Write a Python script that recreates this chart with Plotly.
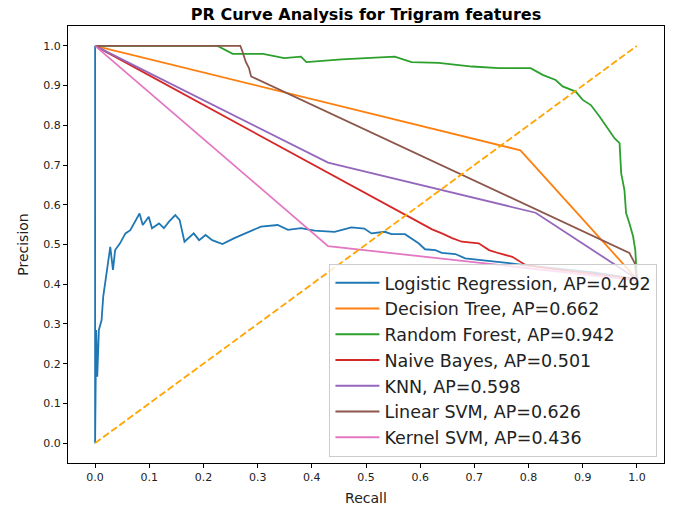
import plotly.graph_objects as go

# ---------------- data ----------------
lr_recall = [0.0, 0.0, 0.002, 0.004, 0.007, 0.012, 0.015, 0.019, 0.028, 0.033, 0.037, 0.046,
             0.056, 0.065, 0.074, 0.082, 0.088, 0.099, 0.105, 0.118, 0.127, 0.136, 0.148,
             0.156, 0.165, 0.182, 0.192, 0.204, 0.216, 0.235, 0.257, 0.278, 0.306, 0.337,
             0.356, 0.380, 0.405, 0.442, 0.473, 0.497, 0.510, 0.535, 0.547, 0.572, 0.584,
             0.597, 0.609, 0.628, 0.640, 0.665, 0.683, 0.714, 0.739, 0.764, 0.792, 0.85,
             0.92, 1.0]
lr_precision = [1.0, 0.0, 0.285, 0.167, 0.285, 0.31, 0.369, 0.41, 0.494, 0.436, 0.486, 0.503,
                0.528, 0.536, 0.557, 0.578, 0.549, 0.570, 0.541, 0.553, 0.541, 0.557, 0.574,
                0.562, 0.507, 0.528, 0.511, 0.524, 0.511, 0.501, 0.516, 0.528, 0.545, 0.549,
                0.537, 0.541, 0.535, 0.532, 0.543, 0.540, 0.528, 0.532, 0.526, 0.526, 0.516,
                0.503, 0.488, 0.486, 0.479, 0.476, 0.465, 0.461, 0.457, 0.453, 0.448, 0.44,
                0.43, 0.413]

dt_recall = [0.0, 0.785, 1.0]
dt_precision = [1.0, 0.737, 0.413]

rf_recall = [0.0, 0.226, 0.254, 0.31, 0.349, 0.38, 0.39, 0.455, 0.553, 0.584, 0.634, 0.696,
             0.745, 0.804, 0.826, 0.850, 0.863, 0.887, 0.900, 0.915, 0.931, 0.949, 0.959,
             0.968, 0.971, 0.977, 0.980, 0.986, 0.993, 0.997, 1.0]
rf_precision = [1.0, 1.0, 0.98, 0.98, 0.969, 0.973, 0.959, 0.966, 0.973, 0.959, 0.957, 0.948,
                0.944, 0.944, 0.927, 0.914, 0.898, 0.885, 0.864, 0.851, 0.822, 0.788, 0.767,
                0.755, 0.679, 0.637, 0.579, 0.554, 0.52, 0.486, 0.413]

nb_recall = [0.0, 0.622, 0.640, 0.659, 0.677, 0.708, 0.727, 0.745, 0.770, 0.779, 0.795,
             0.838, 0.90, 1.0]
nb_precision = [1.0, 0.538, 0.528, 0.516, 0.507, 0.503, 0.486, 0.478, 0.469, 0.461, 0.448,
                0.44, 0.43, 0.413]

knn_recall = [0.0, 0.43, 0.813, 1.0]
knn_precision = [1.0, 0.706, 0.58, 0.413]

lsvm_recall = [0.0, 0.268, 0.272, 0.278, 0.284, 0.288, 0.986, 0.996, 1.0]
lsvm_precision = [1.0, 1.0, 0.986, 0.96, 0.944, 0.923, 0.479, 0.453, 0.413]

ksvm_recall = [0.0, 0.43, 1.0]
ksvm_precision = [1.0, 0.496, 0.41]

series_names = ["Logistic Regression, AP=0.492", "Decision Tree, AP=0.662",
                "Random Forest, AP=0.942", "Naive Bayes, AP=0.501", "KNN, AP=0.598",
                "Linear SVM, AP=0.626", "Kernel SVM, AP=0.436"]
series_colors = ["#1f77b4", "#ff7f0e", "#2ca02c", "#d62728", "#9467bd", "#8c564b", "#e377c2"]
series_x = [lr_recall, dt_recall, rf_recall, nb_recall, knn_recall, lsvm_recall, ksvm_recall]
series_y = [lr_precision, dt_precision, rf_precision, nb_precision, knn_precision,
            lsvm_precision, ksvm_precision]

diag_x = [0.0, 1.0]
diag_y = [0.0, 1.0]

tick_vals = [0.0, 0.1, 0.2, 0.3, 0.4, 0.5, 0.6, 0.7, 0.8, 0.9, 1.0]
tick_text = ["0.0", "0.1", "0.2", "0.3", "0.4", "0.5", "0.6", "0.7", "0.8", "0.9", "1.0"]

# ---------------- figure ----------------
FONT = "DejaVu Sans"
fig = go.Figure()
for i, (nm, col, xs, ys) in enumerate(zip(series_names, series_colors, series_x, series_y)):
    fig.add_trace(go.Scatter(x=xs, y=ys, mode="lines", name=nm, legendgroup=f"g{i}",
                             line=dict(color=col, width=1.8)))

fig.add_trace(go.Scatter(x=diag_x, y=diag_y, mode="lines", showlegend=False,
                         line=dict(color="#FFA500", width=1.8, dash="7px,3px")))

axis_common = dict(showline=True, mirror=True, linecolor="black", linewidth=1,
                   ticks="outside", ticklen=4, tickcolor="black", showgrid=False,
                   zeroline=False, tickvals=tick_vals, ticktext=tick_text, automargin=False,
                   tickfont=dict(family=FONT, size=11, color="#222"))

fig.update_layout(
    width=674, height=510,
    margin=dict(l=68, r=10, t=26, b=47),
    paper_bgcolor="white", plot_bgcolor="white",
    title=dict(text="<b>PR Curve Analysis for Trigram features</b>",
               x=0.5, xref="paper", xanchor="center", y=1 - 14.5 / 510, yanchor="middle",
               font=dict(family=FONT, size=16, color="black")),
    xaxis=dict(range=[-0.05, 1.05],
               title=dict(text="Recall", standoff=9, font=dict(family=FONT, size=14, color="#222")),
               **axis_common),
    yaxis=dict(range=[-0.05, 1.05],
               title=dict(text="Precision", standoff=11, font=dict(family=FONT, size=14, color="#222")),
               **axis_common),
    legend=dict(x=0.989, y=0.014, xanchor="right", yanchor="bottom",
                bgcolor="rgba(255,255,255,0.8)", bordercolor="#cccccc", borderwidth=1,
                font=dict(family=FONT, size=17.5, color="#222"), tracegroupgap=0,
                itemwidth=44),
)

fig.write_html("out.html", config={"displayModeBar": False},
               post_script="document.body.style.margin='0';document.body.style.padding='0';")
